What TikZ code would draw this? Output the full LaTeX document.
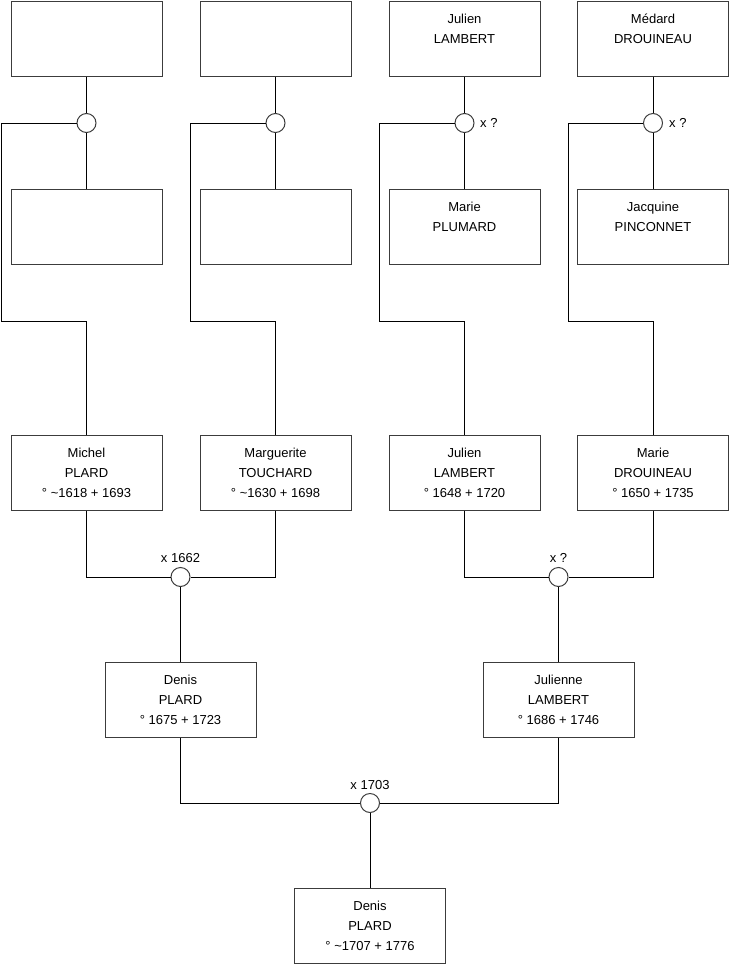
\documentclass[tikz,border=0pt]{standalone}
\usepackage{fontspec}
\setmainfont{Liberation Sans}
\definecolor{boxc}{RGB}{60,60,60}
\begin{document}
\begin{tikzpicture}[x=1pt,y=-1pt,
  person/.style={draw=boxc, line width=1pt, fill=white, minimum width=151pt, minimum height=75pt,
    inner sep=0pt, align=center, font=\fontsize{13}{20}\selectfont},
  union/.style={circle, draw=boxc, line width=1pt, fill=white, minimum size=19pt, inner sep=0pt},
  link/.style={line width=1pt, draw=black},
  lbl/.style={font=\fontsize{13}{15}\selectfont, inner sep=0pt}]
\useasboundingbox (0,0) rectangle (740,975);

% row 1
\node[person] (a1) at (86.5,38.5) {};
\node[person] (b1) at (275.5,38.5) {};
\node[person] (c1) at (464.5,38.5) {Julien\\LAMBERT\\\mbox{}};
\node[person] (d1) at (653,38.5) {Médard\\DROUINEAU\\\mbox{}};
% row 2
\node[person] (a2) at (86.5,227) {};
\node[person] (b2) at (275.5,227) {};
\node[person] (c2) at (464.5,227) {Marie\\PLUMARD\\\mbox{}};
\node[person] (d2) at (653,227) {Jacquine\\PINCONNET\\\mbox{}};
% unions row 1
\node[union] (ua) at (86.5,123) {};
\node[union] (ub) at (275.5,123) {};
\node[union] (uc) at (464.5,123) {};
\node[union] (ud) at (653,123) {};
\node[lbl, anchor=west] (lc) at (480,123) {x ?};
\node[lbl, anchor=west] (ld) at (669,123) {x ?};
% row 3
\node[person] (a3) at (86.5,472.5) {Michel\\PLARD\\° \textasciitilde1618 + 1693};
\node[person] (b3) at (275.5,472.5) {Marguerite\\TOUCHARD\\° \textasciitilde1630 + 1698};
\node[person] (c3) at (464.5,472.5) {Julien\\LAMBERT\\° 1648 + 1720};
\node[person] (d3) at (653,472.5) {Marie\\DROUINEAU\\° 1650 + 1735};
% unions row 3
\node[union] (m1) at (180.5,577) {};
\node[union] (m2) at (558.5,577) {};
\node[lbl] (l1) at (180.5,558) {x 1662};
\node[lbl] (l2) at (558.5,558) {x ?};
% row 4
\node[person] (e1) at (180.5,699.5) {Denis\\PLARD\\° 1675 + 1723};
\node[person] (e2) at (558.5,699.5) {Julienne\\LAMBERT\\° 1686 + 1746};
\node[union] (m3) at (370,803) {};
\node[lbl] (l3) at (370,785) {x 1703};
% bottom
\node[person] (f) at (370,925.5) {Denis\\PLARD\\° \textasciitilde1707 + 1776};

% corner coordinates
\coordinate (ka) at (1.5,321);
\coordinate (kb) at (190.5,321);
\coordinate (kc) at (379.5,321);
\coordinate (kd) at (568.5,321);

% connectors
\foreach \p/\u/\c/\k in {a/ua/a/ka, b/ub/b/kb, c/uc/c/kc, d/ud/d/kd}{
  \draw[link] (\p1) -- (\u);
  \draw[link] (\u) -- (\c2);
  \draw[link] (\u.west) -| (\k) -| (\c3.north);
}
\draw[link] (a3.south) |- (m1);
\draw[link] (b3.south) |- (m1);
\draw[link] (m1) -- (e1);
\draw[link] (c3.south) |- (m2);
\draw[link] (d3.south) |- (m2);
\draw[link] (m2) -- (e2);
\draw[link] (e1.south) |- (m3);
\draw[link] (e2.south) |- (m3);
\draw[link] (m3) -- (f);
\end{tikzpicture}
\end{document}
